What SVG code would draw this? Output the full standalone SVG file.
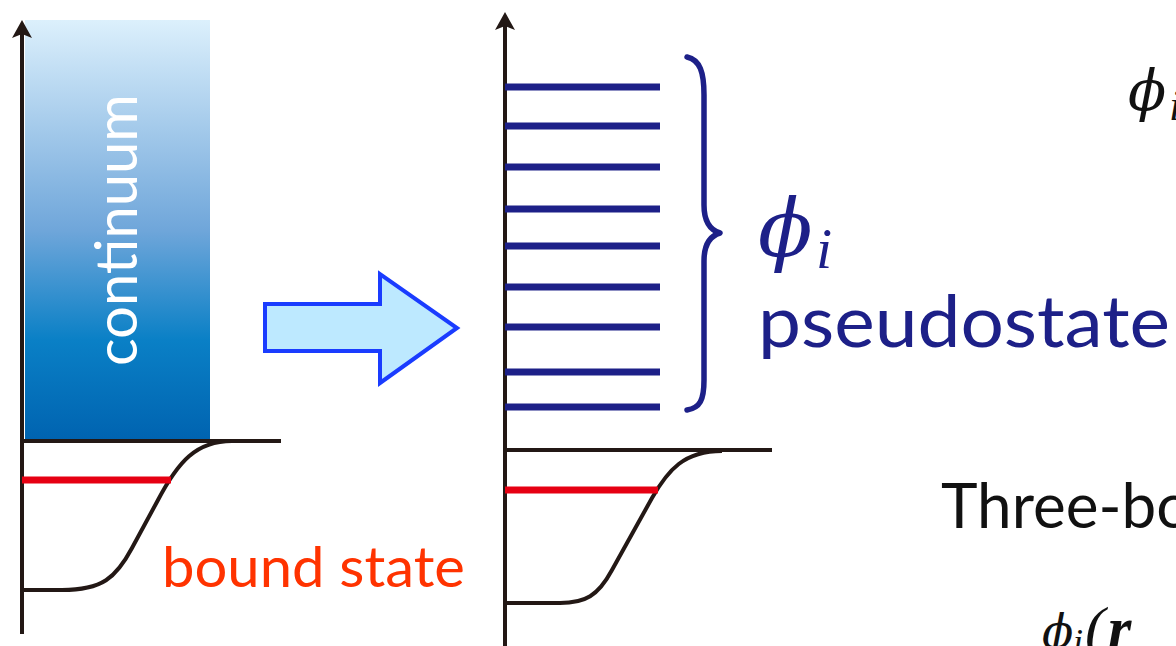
<svg xmlns="http://www.w3.org/2000/svg" width="1176" height="646" viewBox="0 0 1176 646">
<defs>
<linearGradient id="cont" x1="0" y1="0" x2="0" y2="1">
<stop offset="0" stop-color="#dcf0fc"/>
<stop offset="0.5" stop-color="#6fa6da"/>
<stop offset="0.76" stop-color="#0a80c6"/>
<stop offset="1" stop-color="#0063b0"/>
</linearGradient>
<marker id="ah" viewBox="0 0 20 20" refX="10" refY="10" markerWidth="20" markerHeight="20" markerUnits="userSpaceOnUse" orient="auto">
<path d="M20,10 L2,0 L6,10 L2,20 Z" fill="#231815"/>
</marker>
<style>
.axis{stroke:#231815;stroke-width:4;fill:none}
.thin{stroke:#231815;stroke-width:4;fill:none}
.red{stroke:#e60012;stroke-width:7}
.lvl{stroke:#1d2088;stroke-width:7}
.sans{font-family:Lato,"Open Sans","Liberation Sans",sans-serif}
.math{font-family:"Liberation Serif","DejaVu Serif",serif;font-style:italic}
.phi{font-family:"DejaVu Serif",serif;font-style:italic}
</style>
</defs>

<g id="left-panel">
<rect x="25" y="20" width="185" height="421" fill="url(#cont)"/>
<text class="sans" x="0" y="0" transform="translate(137,366) rotate(-90)" font-size="58" fill="#ffffff" textLength="272" lengthAdjust="spacingAndGlyphs">continuum</text>
<line class="axis" x1="22" y1="634" x2="22" y2="30" marker-end="url(#ah)"/>
<line class="thin" x1="22" y1="441" x2="281" y2="441"/>
<path class="thin" d="M22,590 L62,590 C102,590 116,578 132,548 L158,500 C178,462 196,441 232,441"/>
<line class="red" x1="22" y1="480" x2="171" y2="480"/>
<text class="sans" x="162" y="587" font-size="57" fill="#ff3300" textLength="303" lengthAdjust="spacingAndGlyphs">bound state</text>
</g>

<g id="arrow">
<polygon points="265,304 380,304 380,274 457,328 380,383 380,351 265,351" fill="#bde9ff" stroke="#1a3cff" stroke-width="4" stroke-linejoin="miter"/>
</g>

<g id="right-panel">
<line class="axis" x1="505" y1="646" x2="505" y2="22" marker-end="url(#ah)"/>
<g id="pseudostates">
<line class="lvl" x1="505" y1="87" x2="660" y2="87"/>
<line class="lvl" x1="505" y1="126" x2="660" y2="126"/>
<line class="lvl" x1="505" y1="167" x2="660" y2="167"/>
<line class="lvl" x1="505" y1="209" x2="660" y2="209"/>
<line class="lvl" x1="505" y1="246" x2="660" y2="246"/>
<line class="lvl" x1="505" y1="287" x2="660" y2="287"/>
<line class="lvl" x1="505" y1="327" x2="660" y2="327"/>
<line class="lvl" x1="505" y1="372" x2="660" y2="372"/>
<line class="lvl" x1="505" y1="407" x2="660" y2="407"/>
</g>
<line class="thin" x1="505" y1="450" x2="772" y2="450"/>
<path class="thin" d="M505,603 L560,603 C585,603 598,596 612,570 L652,498 C668,470 684,451 722,451"/>
<line class="red" x1="505" y1="490" x2="658" y2="490"/>
<path d="M687,57 C700,60 704,72 704,95 L704,205 C704,222 710,230 720,233 C710,236 704,244 704,261 L704,380 C704,400 700,408 687,410" fill="none" stroke="#1d2088" stroke-width="5.5" stroke-linecap="round" stroke-linejoin="round"/>
</g>

<g id="labels">
<text x="758" y="256" font-size="80" fill="#1d2088"><tspan class="phi">ϕ</tspan><tspan class="math" x="816" y="268" font-size="58">i</tspan></text>
<text class="sans" x="758" y="347" font-size="72" fill="#1d2088" textLength="412" lengthAdjust="spacingAndGlyphs">pseudostate</text>
<text x="1128" y="110" font-size="56" fill="#111111"><tspan class="phi">ϕ</tspan><tspan class="math" x="1169" y="120" font-size="44">i</tspan></text>
<text class="sans" x="941" y="528" font-size="62" fill="#111111">Three-body</text>
<text x="1042" y="648" font-size="46" fill="#111111"><tspan class="phi">ϕ</tspan><tspan class="math" x="1073" y="654" font-size="36">i</tspan><tspan class="math" x="1085" y="648" font-size="60" font-style="normal">(</tspan><tspan class="math" x="1108" y="648" font-size="60" font-weight="bold">r</tspan></text>
</g>
</svg>
